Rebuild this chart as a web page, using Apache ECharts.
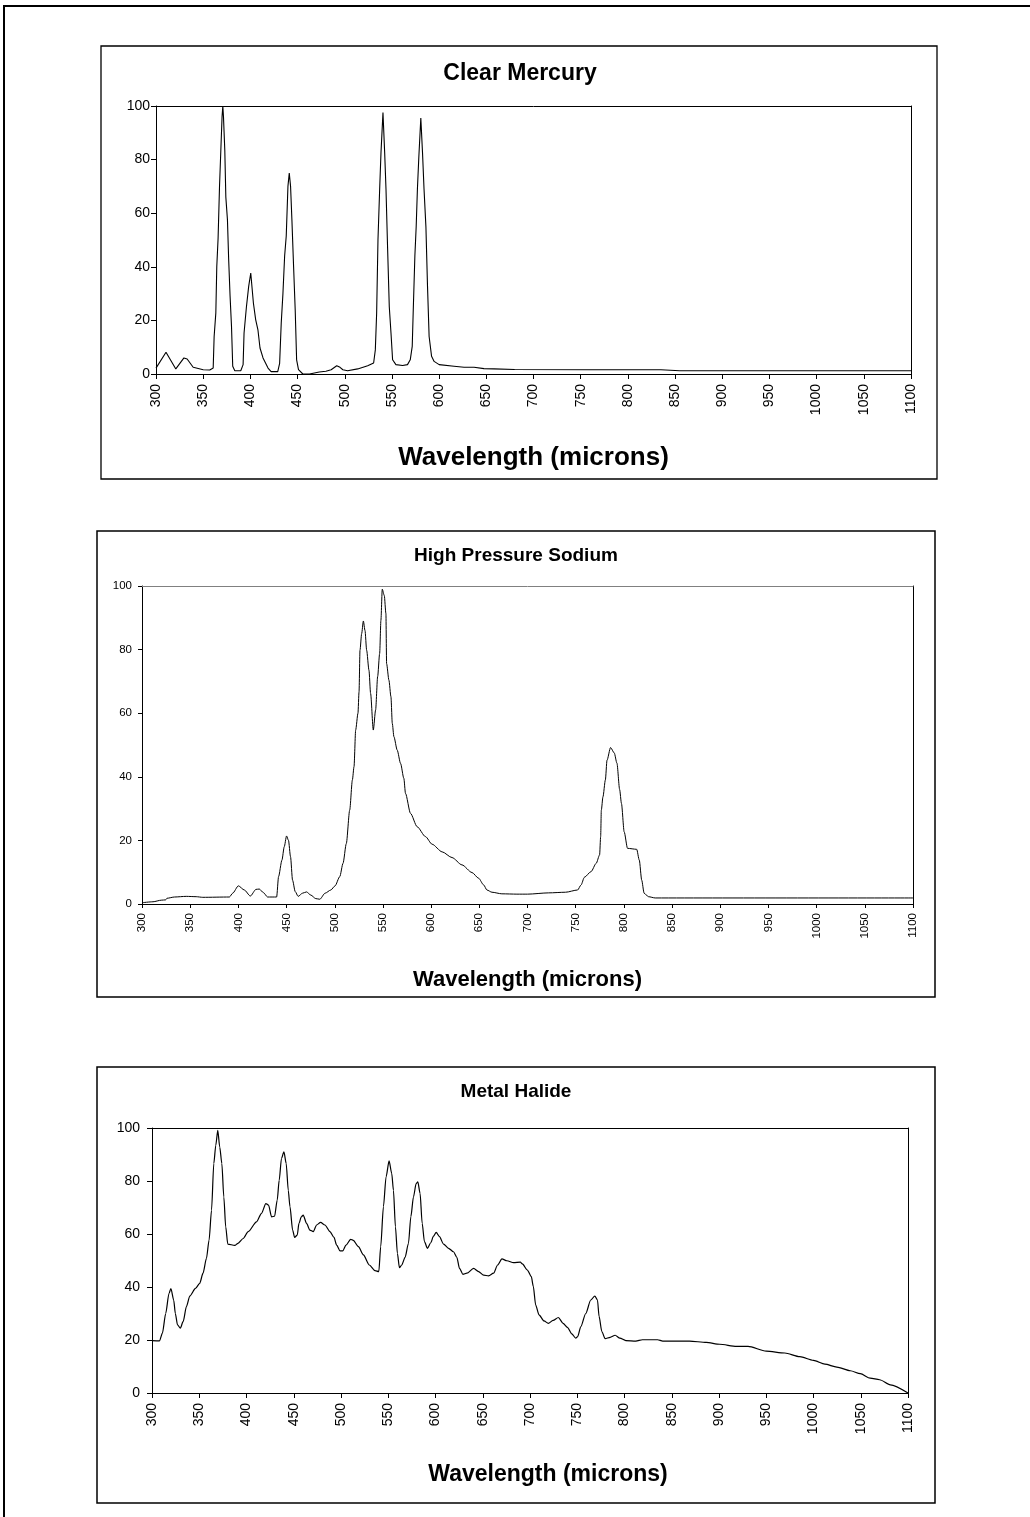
<!DOCTYPE html>
<html>
<head>
<meta charset="utf-8">
<script src="https://cdn.jsdelivr.net/npm/echarts@6/dist/echarts.min.js"></script>
<style>
html,body{margin:0;padding:0;background:#fff;}
#chart{width:1030px;height:1517px;}
</style>
</head>
<body>
<div id="chart"></div>
<script>
// ---- data (wavelength, relative intensity) ----
const titles = ['Clear Mercury', 'High Pressure Sodium', 'Metal Halide'];
const xName = 'Wavelength (microns)';
const xTicks = {min: 300, max: 1100, interval: 50};
const yTicks = {min: 0, max: 100, interval: 20};

const mercury = [
 [300,2.2],[310.6,8.1],[321,1.9],[329.6,6],[333,5.6],[339.4,2.5],[350,1.6],[357,1.5],[360.6,2.2],[361.6,14],
 [363.4,22.8],[364.4,40],[365.8,50.7],[367.3,70],[368.7,83.5],[370,96],[370.8,100],[371.5,96],[372.9,83.5],[374,66],
 [375.7,57.6],[377,42.7],[378.5,29],[380,17.8],[381.3,2.9],[383.5,1.2],[389.8,1.2],[392.3,3.5],[393.3,15.3],[395.8,25],
 [398.2,32.7],[400.4,37.7],[401.8,37],[403.2,26.5],[405.6,20.3],[408,16.5],[410.2,9.7],[413.4,6],[418.7,2.2],[422,0.9],
 [429,0.9],[431,4],[432.7,19],[434.5,30],[436.3,44],[438,51.5],[439.8,70],[441.2,75],[442.6,70],[444,57.6],
 [445.8,40],[447.5,24],[449,5.3],[451,1.6],[455.6,0],[462.7,0],[473,0.75],[480,1],[485.6,1.6],[491.5,3.1],
 [495,2.5],[498,1.6],[503,1.2],[513.7,1.9],[524.3,3.1],[530.6,4.1],[532.4,9],[533.8,22.8],[535.2,50],[537,69],
 [538.4,82.6],[540.5,97.6],[542.3,82.6],[543.7,69],[545.4,47],[547.2,25],[549,15.3],[550.7,5.3],[554.2,3.5],[561.3,3.2],
 [566.5,3.5],[569.4,5.3],[571.5,10.3],[572.5,22.8],[574.3,44],[575.7,55],[577,69],[578.5,81],[580.6,95.5],[582.4,82.6],
 [584,69],[586,55],[587.7,32.7],[589.4,14],[592,6.6],[594.7,4.7],[600,3.5],[615.8,2.9],[626.4,2.5],[637,2.5],
 [647.5,2],[658,1.9],[680,1.7],[760,1.6],[835,1.6],[855,1.2],[950,1.2],[1100,1.2]
];

const sodium = [
 [300,0.4],[311.4,0.7],[320,1.2],[324.5,1.3],[325.9,1.8],[333.8,2.2],[345.9,2.4],[356.2,2.3],[363.1,2.1],[390.7,2.2],
 [394.1,3.4],[400,5.7],[406.2,4.4],[412.4,2.5],[418.3,4.6],[421.7,4.7],[425.9,3.6],[430.3,2.2],[439.7,2.2],[441.7,8.6],
 [445.2,13.8],[447.6,18],[450,21.4],[452,20],[454.1,14.9],[456.2,7.5],[459,3.9],[462,2.4],[466.6,3.4],[470.7,3.8],
 [475.2,2.8],[480.3,1.7],[484.5,1.5],[490,3.4],[495.9,4.4],[500.3,5.7],[505.2,8.6],[508.6,12.8],[512,19],[515.5,29.5],
 [518.3,39],[520,43.2],[521.7,54.7],[524.1,60],[525.2,66.7],[526.2,79.8],[527.9,85],[529.7,89],[531.4,86],[533.1,79.8],
 [535.5,73.5],[537.2,66.2],[540,54.7],[542.4,61],[544.5,71.5],[546.6,78.8],[547.9,89.2],[549.3,99],[551.4,97],[553.1,91.3],
 [553.8,75.6],[556.2,70.4],[558.3,65.2],[559.7,56.8],[561.4,52.6],[564.8,48.4],[568.3,44.2],[571.7,39.5],[573.4,34.8],[578.6,28.5],
 [585.5,24.3],[594.1,21.2],[601,18.8],[611.4,16.4],[621.7,14.6],[632,12.3],[642.4,9.9],[649.3,8.1],[654.5,6],[657.9,4.4],
 [663.1,3.7],[673.4,3.2],[689,3.1],[700,3.1],[722,3.5],[739.5,3.7],[752,4.4],[755.6,6],[759,8.4],[766,10.2],
 [771.3,12.8],[774.8,15.4],[775.9,21.2],[776.6,29.5],[778.3,33.7],[780.8,39],[782.5,45.2],[786.2,49.2],[790,47.5],[792.8,44.3],
 [795.6,36],[797.5,31.6],[800.3,22.7],[803.8,17.5],[813.3,17.2],[816,13.8],[818.5,7.5],[821,3.4],[825.5,2.3],[832.5,1.9],
 [1100,1.9]
];

const halide = [
 [300,19.8],[308,19.7],[311,22.6],[314.5,30],[318,37.6],[320,39.4],[323,35],[324.7,30],[327,25.7],[330,24.5],
 [333,27],[336.4,32.6],[340,36.6],[346,39.5],[350.5,41.4],[354,45.2],[357.6,50.8],[360.4,57.7],[363,69],[365.4,86.6],
 [367.5,93.5],[369.6,99.1],[371.7,92.8],[373.9,86.6],[376,74],[378,62.7],[380.2,56.2],[387.6,55.7],[391,56.5],[396.5,58.3],
 [401.8,60.9],[410.6,64.6],[415.9,67.8],[420.5,71.5],[423.3,70.9],[426.5,66.5],[429.7,66.7],[432.5,72.8],[434.6,80.3],[437,88.5],
 [439.6,91],[442,86.6],[444.2,76.5],[446,70.3],[448.8,61.5],[450.9,58.7],[453.7,59.6],[455.5,64],[458,66.5],[460,67.1],
 [463.6,64],[467,61.5],[470.7,60.9],[474.2,63.4],[478.4,64.4],[483,63.4],[488.3,60.9],[492.6,58.7],[495.4,55.8],[499,53.6],
 [501.8,53.6],[505.3,55.8],[510.2,58],[513,57.6],[518.4,55.2],[523.7,52.1],[530,48.3],[536,46.2],[540,45.8],[542,55.2],
 [544.9,70.3],[547.7,81.6],[550.9,87.6],[553.7,82.8],[555.5,76.5],[557.6,62.7],[559.7,52.7],[561.8,47.3],[564.3,48.3],[567.8,51.2],
 [571.4,56.5],[573.9,66.5],[576.7,74],[579.5,79],[581.3,79.7],[583.7,75.3],[585.9,64],[588.3,57.1],[591.5,54.6],[595,56.7],
 [597.9,59.2],[600.7,60.6],[604.2,59],[608.5,56.2],[613.8,54.6],[619,53.3],[622.6,51.2],[625.4,47],[629,44.8],[633.2,45.2],
 [640.3,47],[645.6,45.8],[650.9,44.5],[656.2,44.2],[661.5,45.2],[665.7,48.3],[670.3,50.6],[675.6,49.9],[682.7,49.2],[689.8,49.4],
 [691.9,48.7],[697.2,46.4],[701.4,43.9],[703.5,40.2],[706,33.2],[709.5,29.5],[714.8,27.2],[719.4,26.3],[724.4,27.4],[730,28.5],
 [735,26.3],[739.6,24.8],[744.2,22.3],[748.4,20.7],[750.5,21.3],[753.7,25],[759,30],[764.3,35.1],[768.6,36.6],[771.4,35.1],
 [773.1,28.9],[776,23.2],[779.5,20.5],[784.8,21],[790.1,21.8],[795.1,20.7],[801.4,19.8],[812,19.6],[819,20.1],[835,20.1],
 [840.5,19.6],[868.8,19.6],[886.5,19.1],[900.7,18.4],[918.4,17.6],[930.7,17.6],[950,15.8],[969.6,15.1],[985.5,13.7],[1000,12.3],
 [1012,10.9],[1024.7,9.8],[1039,8.4],[1049.5,7.3],[1060,5.6],[1070,5],[1081.3,3.1],[1100,0]
];

// ---- layout ----
const FONT = '"Liberation Sans", Arial, Helvetica, sans-serif';
const grids = [
  {left: 156, top: 106, width: 755, height: 268},
  {left: 142, top: 586, width: 771, height: 318},
  {left: 152, top: 1128, width: 756, height: 265}
];
const styles = [
  {label: 14, yMargin: 6, xMargin: 10, tick: 5, nameSize: 26, nameGap: 71, namePad: [0,0,0,0], topColor: '#000', smooth: false, lw: 1.1},
  {label: 11.5, yMargin: 10, xMargin: 9, tick: 4, nameSize: 22, nameGap: 65, namePad: [0,0,0,0], topColor: '#808080', smooth: 0.25, lw: 1},
  {label: 14, yMargin: 12, xMargin: 10, tick: 5, nameSize: 23, nameGap: 70, namePad: [0,0,0,36], topColor: '#000', smooth: 0.25, lw: 1.2}
];
const dataSets = [mercury, sodium, halide];
const plain = v => String(v);

const chart = echarts.init(document.getElementById('chart'), null, {renderer: 'canvas'});

const xAxis = [], yAxis = [], series = [];
grids.forEach((g, i) => {
  const s = styles[i];
  xAxis.push({
    type: 'value', gridIndex: i, min: xTicks.min, max: xTicks.max, interval: xTicks.interval,
    name: xName, nameLocation: 'middle', nameGap: s.nameGap,
    nameTextStyle: {fontFamily: FONT, fontWeight: 'bold', fontSize: s.nameSize, color: '#000', padding: s.namePad},
    axisLine: {onZero: false, lineStyle: {color: '#000', width: 1}},
    axisTick: {show: true, inside: false, length: s.tick, lineStyle: {color: '#000'}},
    axisLabel: {rotate: 90, margin: s.xMargin, fontFamily: FONT, fontSize: s.label, color: '#000', showMinLabel: true, showMaxLabel: true, formatter: plain},
    splitLine: {show: false}
  });
  xAxis.push({
    type: 'value', gridIndex: i, position: 'top', min: xTicks.min, max: xTicks.max,
    axisLine: {onZero: false, lineStyle: {color: s.topColor, width: 1}},
    axisTick: {show: false}, axisLabel: {show: false}, splitLine: {show: false}
  });
  yAxis.push({
    type: 'value', gridIndex: i, min: yTicks.min, max: yTicks.max, interval: yTicks.interval,
    axisLine: {show: true, onZero: false, lineStyle: {color: '#000', width: 1}},
    axisTick: {show: true, inside: false, length: s.tick, lineStyle: {color: '#000'}},
    axisLabel: {margin: s.yMargin, fontFamily: FONT, fontSize: s.label, color: '#000', formatter: plain},
    splitLine: {show: false}
  });
  yAxis.push({
    type: 'value', gridIndex: i, position: 'right', min: yTicks.min, max: yTicks.max,
    axisLine: {show: true, onZero: false, lineStyle: {color: '#000', width: 1}},
    axisTick: {show: false}, axisLabel: {show: false}, splitLine: {show: false}
  });
  series.push({
    type: 'line', xAxisIndex: i * 2, yAxisIndex: i * 2, data: dataSets[i],
    showSymbol: false, symbol: 'none', smooth: s.smooth, smoothMonotone: 'x',
    lineStyle: {color: '#000', width: s.lw}, silent: true, animation: false, z: 3
  });
});

const box = (x, y, w, h, lw) => ({type: 'rect', shape: {x: x, y: y, width: w, height: h}, style: {fill: 'none', stroke: '#000', lineWidth: lw}, z: 0, silent: true});
const ttl = (text, x, y, size) => ({type: 'text', x: x, y: y, style: {text: text, fill: '#000', font: 'bold ' + size + 'px ' + FONT, align: 'center', verticalAlign: 'middle'}, z: 5});

chart.setOption({
  animation: false,
  backgroundColor: '#fff',
  grid: grids.map(g => Object.assign({containLabel: false, show: false}, g)),
  xAxis: xAxis,
  yAxis: yAxis,
  series: series,
  graphic: [
    box(4, 6, 1100, 1600, 2),
    box(101, 46, 836, 433, 1.3),
    box(97, 531, 838, 466, 1.5),
    box(97, 1067, 838, 436, 1.5),
    ttl(titles[0], 520, 74, 23),
    ttl(titles[1], 516, 556, 19),
    ttl(titles[2], 516, 1092, 19)
  ]
});
</script>
</body>
</html>
